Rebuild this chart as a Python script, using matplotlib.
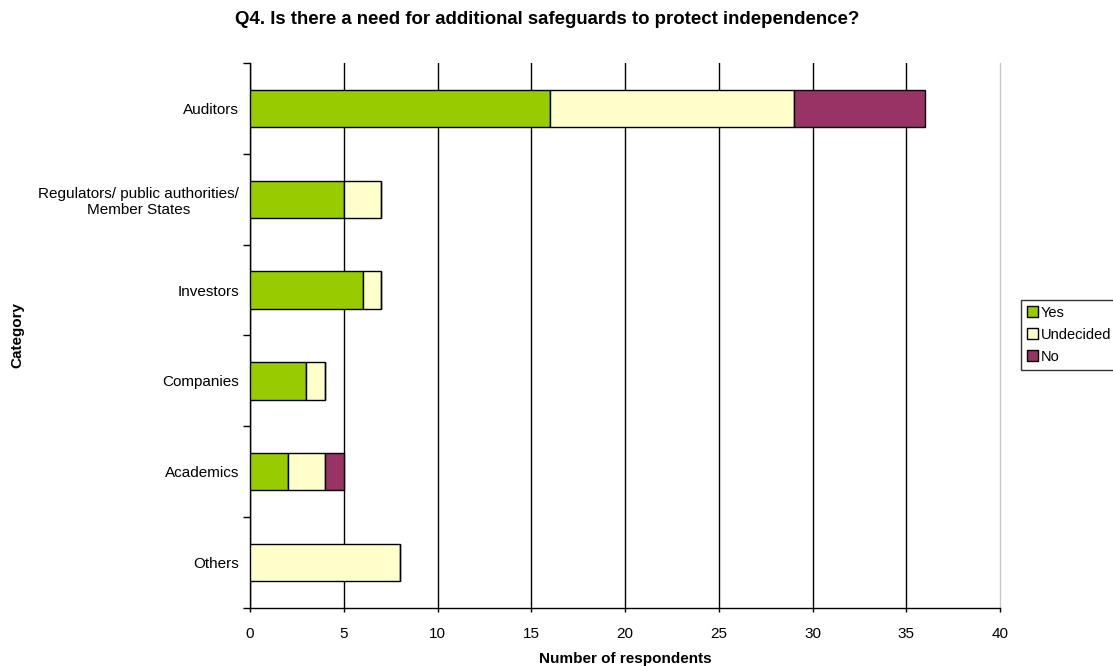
import matplotlib
matplotlib.use("Agg")
import matplotlib.pyplot as plt
import numpy as np

matplotlib.rcParams.update({
    "font.family": ["Liberation Sans", "DejaVu Sans"],
    "font.size": 11,
})

CATEGORIES = ["Auditors", "Regulators/ public authorities/\nMember States", "Investors",
              "Companies", "Academics", "Others"]
YES = [16, 5, 6, 3, 2, 0]
UNDECIDED = [13, 2, 1, 1, 2, 8]
NO = [7, 0, 0, 0, 1, 0]
SERIES = ["Yes", "Undecided", "No"]
COLORS = {"Yes": "#99CC00", "Undecided": "#FFFFCC", "No": "#993366"}
X_TICKS = [0, 5, 10, 15, 20, 25, 30, 35, 40]

fig = plt.figure(figsize=(11.13, 6.66), dpi=100)
ax = fig.add_axes([250 / 1113, 1 - 608 / 666, 750 / 1113, 545 / 666])

y = np.arange(len(CATEGORIES))
left = np.zeros(len(CATEGORIES))
for name, vals in zip(SERIES, [YES, UNDECIDED, NO]):
    vals = np.array(vals, dtype=float)
    ax.barh(y, vals, left=left, height=0.41, color=COLORS[name],
            edgecolor="black", linewidth=1.0, label=name, zorder=3)
    left += vals

ax.set_xlim(0, 40)
ax.set_ylim(len(CATEGORIES) - 0.5, -0.5)
ax.set_xticks(X_TICKS)
ax.set_yticks(y)
ax.set_yticklabels(CATEGORIES, ha="right", multialignment="center", fontsize=11)
ax.set_yticks(np.arange(len(CATEGORIES) + 1) - 0.5, minor=True)
ax.tick_params(axis="y", which="major", length=0, pad=8)
ax.tick_params(axis="y", which="minor", length=5, width=1, direction="out")
ax.tick_params(axis="x", which="major", length=3, width=1, direction="out",
               pad=11, labelsize=11)

ax.grid(True, axis="x", color="black", linewidth=1, zorder=0)
ax.set_axisbelow(True)
gl = ax.xaxis.get_gridlines()
gl[-1].set_color("#c8c8c8")
gl[-1].set_clip_on(False)

for s in ["top", "right"]:
    ax.spines[s].set_visible(False)
ax.spines["left"].set_linewidth(1)
ax.spines["bottom"].set_linewidth(1)

ax.set_xlabel("Number of respondents", fontweight="bold", fontsize=11)
ax.xaxis.label.set_va("center")
ax.xaxis.set_label_coords(0.5, (608 - 659) / 545)
fig.text(17 / 1113, 1 - 335 / 666, "Category", rotation=90, fontweight="bold",
         fontsize=11, ha="center", va="center")
fig.text(547 / 1113, 1 - 20 / 666,
         "Q4. Is there a need for additional safeguards to protect independence?",
         fontweight="bold", fontsize=13.4, ha="center", va="center")

leg = fig.legend(loc="upper left", bbox_to_anchor=(1021 / 1113, 1 - 300 / 666),
                 frameon=True, fancybox=False, borderaxespad=0, handlelength=0.75,
                 handleheight=0.75, handletextpad=0.2, labelspacing=0.55,
                 borderpad=0.4, fontsize=10.5)
leg.get_frame().set_edgecolor("black")
leg.get_frame().set_linewidth(1)

fig.savefig("out.png", dpi=100)
